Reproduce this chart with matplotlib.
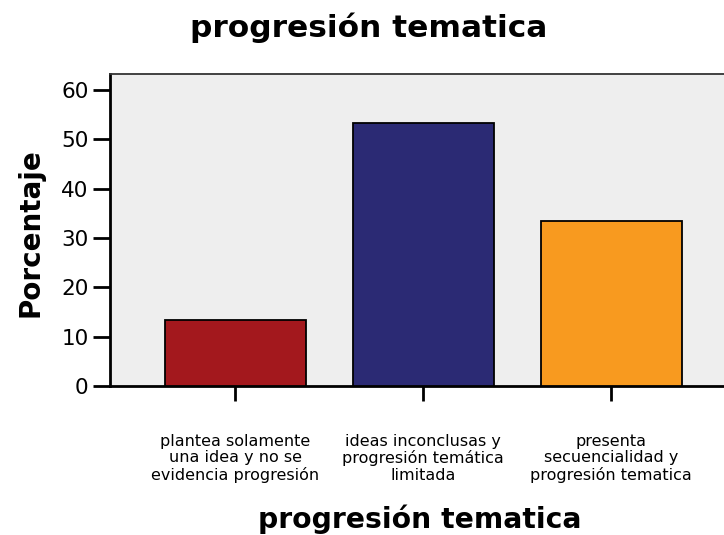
import matplotlib
matplotlib.use("Agg")
import matplotlib.pyplot as plt

categories = ["plantea solamente\nuna idea y no se\nevidencia progresión",
              "ideas inconclusas y\nprogresión temática\nlimitada",
              "presenta\nsecuencialidad y\nprogresión tematica"]
values = [13.33, 53.33, 33.33]
colors = ["#A3181D", "#2B2A74", "#F89A1F"]
yticks = [0, 10, 20, 30, 40, 50, 60]

plt.rcParams['font.family'] = ['DejaVu Sans']

W, H = 724, 535
fig = plt.figure(figsize=(W/100, H/100), dpi=100)
ax = fig.add_axes([110/W, (H-386)/H, (W-110)/W, (386-74)/H])
ax.set_facecolor("#EEEEEE")

x = list(range(len(categories)))
ax.bar(x, values, width=0.75, color=colors, edgecolor="black", linewidth=1.3, zorder=3)

ax.set_xlim(-0.665, 2.6)
ax.set_ylim(0, 63.2)
ax.set_yticks(yticks)
ax.set_yticklabels([str(t) for t in yticks], fontsize=15.5)
ax.set_xticks(x)
ax.set_xticklabels(categories, fontsize=11.5, linespacing=1.12)

ax.tick_params(axis='y', direction='out', length=12.5, width=2, pad=3, color='black')
ax.tick_params(axis='x', direction='out', length=10.5, width=2, pad=24, color='black')

for s in ['left', 'bottom']:
    ax.spines[s].set_linewidth(2)
    ax.spines[s].set_color('black')
ax.spines['top'].set_linewidth(1.3)
ax.spines['top'].set_color('#333333')
ax.spines['right'].set_visible(False)

fig.text(369/W, 1-28/H, "progresión tematica", ha='center', va='center',
         fontsize=22.5, fontweight='bold')
fig.text(420/W, 1-519/H, "progresión tematica", ha='center', va='center',
         fontsize=20.3, fontweight='bold')
fig.text(31/W, 1-233/H, "Porcentaje", ha='center', va='center', rotation=90,
         fontsize=20, fontweight='bold')

fig.savefig("out.png", dpi=100)
